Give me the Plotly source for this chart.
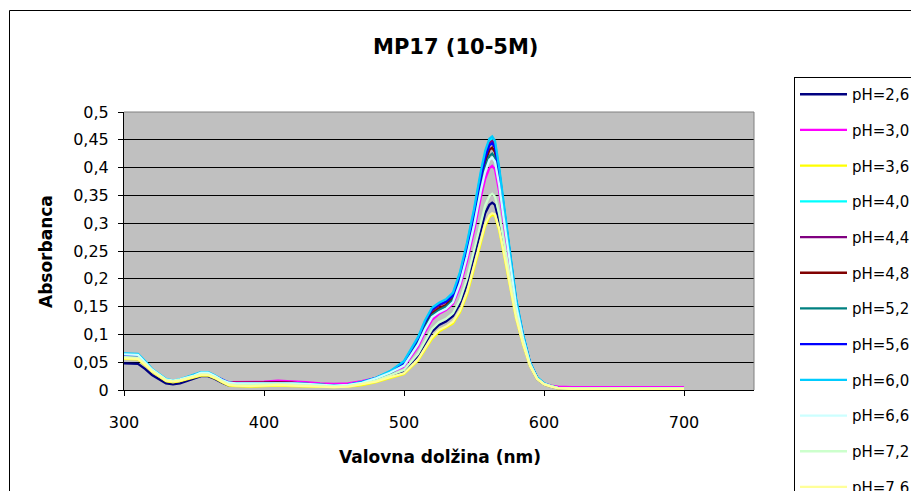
import plotly.graph_objects as go

# Wavelength grid (nm)
wavelength = [300, 305, 310, 315, 320, 330, 335, 340, 350, 355, 360, 365, 370, 375, 380,
              390, 400, 410, 420, 430, 440, 450, 460, 470, 480, 490,
              500, 510, 515, 520, 525, 530, 535, 540, 545, 550, 555, 558, 561, 563,
              565, 568, 571, 574, 577, 580, 585, 590, 595, 600,
              605, 610, 620, 700]

# Absorbance spectra at each pH
ph_2_6 = [.048, .048, .047, .038, .027, .012, .010, .012, .020, .025, .025, .020, .013, .008, .008,
          .008, .009, .010, .009, .009, .007, .006, .007, .011, .018, .026,
          .034, .062, .084, .105, .117, .123, .133, .155, .190, .238, .290, .318, .333, .337,
          .333, .303, .262, .218, .174, .134, .084, .044, .020, .010,
          .006, .003, .002, .002]
ph_3_0 = [.058, .058, .057, .046, .034, .018, .015, .017, .024, .029, .029, .024, .017, .014, .014,
          .014, .015, .017, .016, .014, .012, .011, .012, .016, .022, .031,
          .042, .078, .104, .126, .137, .144, .155, .186, .232, .286, .348, .380, .399, .403,
          .397, .357, .305, .252, .199, .151, .093, .048, .022, .012,
          .008, .006, .005, .005]
ph_3_6 = [.056, .056, .055, .045, .033, .016, .014, .016, .022, .026, .026, .021, .014, .008, .007,
          .006, .007, .008, .007, .006, .005, .005, .006, .009, .014, .021,
          .029, .053, .072, .092, .105, .112, .120, .140, .172, .218, .268, .295, .311, .315,
          .313, .287, .249, .209, .168, .130, .082, .043, .020, .010,
          .006, .003, .002, .002]
ph_4_0 = [.065, .065, .064, .051, .037, .019, .017, .019, .026, .031, .031, .025, .018, .013, .012,
          .012, .012, .013, .012, .011, .009, .008, .009, .014, .022, .033,
          .051, .093, .123, .146, .155, .161, .173, .210, .262, .322, .391, .426, .448, .452,
          .444, .397, .337, .278, .218, .164, .100, .050, .023, .012,
          .007, .004, .003, .003]
ph_4_4 = [.062, .062, .061, .049, .036, .018, .016, .018, .025, .030, .030, .024, .017, .012, .012,
          .012, .013, .014, .013, .011, .009, .008, .009, .013, .021, .031,
          .049, .090, .120, .143, .152, .158, .170, .206, .258, .318, .387, .422, .444, .448,
          .440, .394, .334, .275, .216, .162, .098, .049, .022, .011,
          .007, .004, .003, .003]
ph_4_8 = [.061, .061, .060, .048, .035, .018, .016, .018, .025, .030, .030, .024, .017, .013, .013,
          .013, .013, .014, .013, .011, .009, .008, .009, .013, .021, .030,
          .047, .087, .116, .138, .147, .153, .165, .200, .250, .309, .376, .410, .432, .436,
          .428, .383, .325, .268, .210, .158, .096, .048, .022, .011,
          .007, .004, .003, .003]
ph_5_2 = [.060, .060, .059, .048, .035, .018, .016, .018, .025, .029, .029, .024, .017, .012, .012,
          .012, .012, .013, .012, .011, .009, .008, .009, .013, .020, .030,
          .046, .085, .113, .135, .144, .150, .162, .196, .244, .301, .366, .400, .421, .425,
          .418, .374, .318, .262, .206, .155, .094, .047, .021, .011,
          .007, .004, .003, .003]
ph_5_6 = [.063, .063, .062, .050, .036, .019, .016, .018, .026, .031, .031, .025, .018, .013, .012,
          .012, .012, .013, .012, .011, .009, .008, .009, .014, .022, .032,
          .050, .092, .122, .145, .154, .159, .170, .205, .256, .315, .383, .418, .440, .444,
          .436, .390, .331, .272, .214, .160, .097, .049, .022, .011,
          .007, .004, .003, .003]
ph_6_0 = [.066, .066, .065, .052, .038, .020, .017, .019, .027, .032, .032, .026, .018, .013, .012,
          .012, .012, .013, .012, .011, .009, .008, .009, .014, .022, .034,
          .052, .095, .125, .148, .157, .163, .175, .212, .265, .325, .395, .430, .452, .456,
          .448, .400, .340, .280, .220, .165, .100, .050, .023, .012,
          .007, .004, .003, .003]
ph_6_6 = [.064, .064, .063, .050, .037, .019, .017, .019, .026, .031, .031, .025, .018, .013, .012,
          .012, .012, .013, .012, .011, .009, .008, .009, .013, .021, .031,
          .044, .082, .109, .131, .140, .146, .158, .192, .240, .296, .360, .393, .414, .418,
          .411, .368, .313, .258, .203, .153, .093, .047, .021, .011,
          .007, .004, .003, .003]
ph_7_2 = [.059, .059, .058, .047, .035, .018, .016, .018, .024, .028, .028, .023, .016, .010, .009,
          .009, .010, .011, .010, .009, .007, .006, .007, .011, .017, .026,
          .036, .065, .088, .110, .122, .128, .138, .162, .200, .250, .303, .332, .349, .353,
          .348, .316, .272, .226, .180, .138, .086, .045, .021, .011,
          .007, .004, .003, .003]
ph_7_6 = [.057, .057, .056, .046, .034, .017, .015, .017, .023, .027, .027, .022, .015, .009, .008,
          .007, .008, .009, .008, .007, .006, .005, .006, .010, .015, .023,
          .030, .055, .075, .095, .108, .114, .123, .143, .176, .222, .272, .299, .314, .318,
          .316, .290, .252, .211, .169, .131, .083, .043, .020, .010,
          .006, .003, .002, .002]

series_names = ["pH=2,6", "pH=3,0", "pH=3,6", "pH=4,0", "pH=4,4", "pH=4,8",
                "pH=5,2", "pH=5,6", "pH=6,0", "pH=6,6", "pH=7,2", "pH=7,6"]
series_values = [ph_2_6, ph_3_0, ph_3_6, ph_4_0, ph_4_4, ph_4_8,
                 ph_5_2, ph_5_6, ph_6_0, ph_6_6, ph_7_2, ph_7_6]
series_colors = ["#000080", "#FF00FF", "#FFFF00", "#00FFFF", "#800080", "#800000",
                 "#008080", "#0000FF", "#00CCFF", "#CCFFFF", "#CCFFCC", "#FFFF99"]

x_ticks = [300, 400, 500, 600, 700]
y_ticks = [0, 0.05, 0.1, 0.15, 0.2, 0.25, 0.3, 0.35, 0.4, 0.45, 0.5]

W, H = 911, 491
ML, MR, MT, MB = 124, 157, 112, 101
PW, PH = W - ML - MR, H - MT - MB


def px(x):
    return (x - ML) / PW


def py(y):
    return (H - MB - y) / PH


FONT = "DejaVu Sans"

fig = go.Figure()
for name, vals, col in zip(series_names, series_values, series_colors):
    fig.add_trace(go.Scatter(
        x=wavelength, y=vals, mode="lines", name=name, legendgroup=name,
        line=dict(color=col, width=2.3),
    ))

fig.update_layout(
    width=W, height=H,
    margin=dict(l=ML, r=MR, t=MT, b=MB, pad=0, autoexpand=False),
    paper_bgcolor="white",
    plot_bgcolor="#C0C0C0",
    separators=", ",
    font=dict(family=FONT, size=16, color="black"),
    showlegend=True,
    legend=dict(
        x=px(794), y=py(77), xanchor="left", yanchor="top",
        bgcolor="white", bordercolor="black", borderwidth=1,
        font=dict(family=FONT, size=15, color="black"),
        tracegroupgap=13.2, itemwidth=47, maxheight=900,
    ),
    xaxis=dict(
        range=[300, 750], tickvals=x_ticks, showgrid=False, zeroline=False,
        showline=True, linecolor="black", linewidth=1,
        ticks="outside", ticklen=5, tickcolor="black",
        tickfont=dict(family=FONT, size=16), ticklabelstandoff=13,
    ),
    yaxis=dict(
        range=[0, 0.5], tickvals=y_ticks, showgrid=True, gridcolor="black", gridwidth=1,
        zeroline=False, showline=True, linecolor="black", linewidth=1,
        ticks="outside", ticklen=5, tickcolor="black",
        tickfont=dict(family=FONT, size=16), ticklabelstandoff=6,
    ),
    shapes=[
        # outer chart frame
        dict(type="rect", xref="paper", yref="paper",
             x0=px(9.5), x1=px(930), y0=py(510), y1=py(10.5),
             line=dict(color="black", width=1), fillcolor="rgba(0,0,0,0)", layer="below"),
        # gray plot-area border (top and right)
        dict(type="line", xref="paper", yref="paper", x0=0, x1=1, y0=1, y1=1,
             line=dict(color="#808080", width=1)),
        dict(type="line", xref="paper", yref="paper", x0=1, x1=1, y0=0, y1=1,
             line=dict(color="#808080", width=1)),
    ],
    annotations=[
        dict(text="<b>MP17 (10-5M)</b>", xref="paper", yref="paper",
             x=px(455), y=py(47), xanchor="center", yanchor="middle", showarrow=False,
             font=dict(family=FONT, size=21, color="black")),
        dict(text="<b>Valovna dolžina (nm)</b>", xref="paper", yref="paper",
             x=px(440), y=py(457), xanchor="center", yanchor="middle", showarrow=False,
             font=dict(family=FONT, size=17, color="black")),
        dict(text="<b>Absorbanca</b>", xref="paper", yref="paper", textangle=-90,
             x=px(46), y=py(252), xanchor="center", yanchor="middle", showarrow=False,
             font=dict(family=FONT, size=17, color="black")),
    ],
)

fig.write_html("out.html")
